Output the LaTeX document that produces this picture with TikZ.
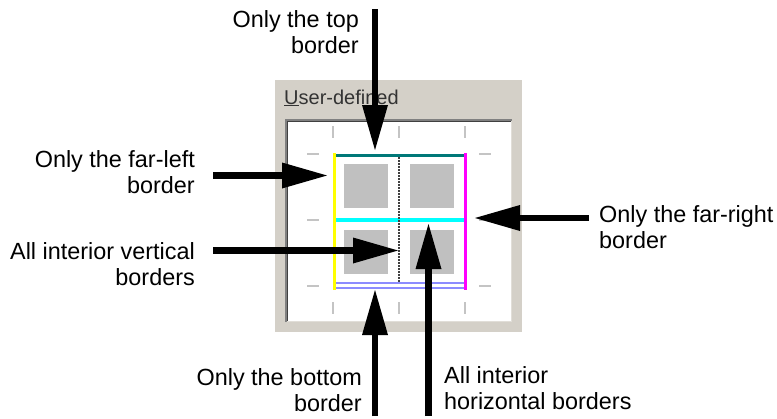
\documentclass[tikz,border=0pt]{standalone}
\usepackage{fontspec}
\setmainfont{Liberation Sans}
\usetikzlibrary{arrows.meta}
\definecolor{panel}{HTML}{D4D0C8}
\definecolor{tealb}{HTML}{007878}
\definecolor{lav}{HTML}{8C8CFF}
\definecolor{tickc}{HTML}{C4C4C4}
\definecolor{cellc}{HTML}{C0C0C0}
\definecolor{ylw}{HTML}{FFFF00}
\definecolor{mag}{HTML}{FF00FF}
\definecolor{cyn}{HTML}{00FFFF}
\begin{document}
\begin{tikzpicture}[x=1pt,y=-1pt,
  lbl/.style={font=\fontsize{23.4}{26}\selectfont, inner sep=0pt, text=black},
  callout/.style={line width=6.8pt, -{Triangle[length=45pt,width=26pt,line width=0pt]}},
  tickmark/.style={tickc, line width=2pt},
  cellbox/.style={fill=cellc},
  bline/.style={line width=3pt}
]
\useasboundingbox[fill=white] (0,0) rectangle (777,418);
% dialog panel
\fill[panel] (275,80) rectangle (522,332);
\node[anchor=base west, inner sep=0pt, font=\fontsize{20}{22}\selectfont, text=black!80] (title) at (284,104) {\underline{U}ser-defined};
% sunken white area
\fill[white] (285,119) rectangle (512,322);
\draw[black!50, line width=1.5pt] (285.75,322) -- (285.75,119.75) -- (512,119.75);
\draw[black!75, line width=1.5pt] (287.25,320.5) -- (287.25,121.25) -- (510.5,121.25);
\draw[panel!70!white, line width=1.5pt] (286.5,321.25) -- (511.25,321.25) -- (511.25,120.5);
% tick marks
\foreach \yy in {154,220,286} {
  \draw[tickmark] (307,\yy) -- (319,\yy);
  \draw[tickmark] (479,\yy) -- (491,\yy);
}
\foreach \xx in {333,399,465} {
  \draw[tickmark] (\xx,126) -- (\xx,138);
  \draw[tickmark] (\xx,302) -- (\xx,314);
}
% cells
\fill[cellbox] (344,164) rectangle (388,208);
\fill[cellbox] (410,164) rectangle (454,208);
\fill[cellbox] (344,230) rectangle (388,274);
\fill[cellbox] (410,230) rectangle (454,274);
% borders
\draw[bline, tealb] (336,155) -- (464,155);
\draw[line width=3.5pt, cyn] (336,220) -- (464,220);
\draw[line width=2pt, lav] (336,283) -- (464,283);
\draw[line width=2pt, lav] (336,288) -- (466,288);
\draw[black!75, line width=1.3pt, dash pattern=on 1.5pt off 1.5pt] (399,157) -- (399,282);
\draw[bline, ylw] (334.5,153) -- (334.5,289.5);
\draw[bline, mag] (465.5,153) -- (465.5,289.5);
% arrow coordinates
\coordinate (topTail) at (375,9);
\coordinate (topTip) at (375,150);
\coordinate (flTail) at (213,175.5);
\coordinate (flTip) at (327,175.5);
\coordinate (ivTail) at (213,250.5);
\coordinate (ivTip) at (398,250.5);
\coordinate (frTail) at (589,218);
\coordinate (frTip) at (475,218);
\coordinate (bTail) at (375,416);
\coordinate (bTip) at (375,290);
\coordinate (ihTail) at (428.5,416);
\coordinate (ihTip) at (428.5,224);
\draw[callout] (topTail) -- (topTip);
\draw[callout] (flTail) -- (flTip);
\draw[callout] (ivTail) -- (ivTip);
\draw[callout] (frTail) -- (frTip);
\draw[callout] (bTail) -- (bTip);
\draw[callout] (ihTail) -- (ihTip);
% labels (anchor = baseline of the last line)
\node[lbl, anchor=base east, align=right] (ltop) at (359,53) {Only the top\\border};
\node[lbl, anchor=base east, align=right] (lfl) at (195,193) {Only the far-left\\border};
\node[lbl, anchor=base east, align=right] (liv) at (195,285) {All interior vertical\\borders};
\node[lbl, anchor=base west, align=left] (lfr) at (599,248) {Only the far-right\\border};
\node[lbl, anchor=base east, align=right] (lbot) at (362,411) {Only the bottom\\border};
\node[lbl, anchor=base west, align=left] (lih) at (444,409) {All interior\\horizontal borders};
\end{tikzpicture}
\end{document}
